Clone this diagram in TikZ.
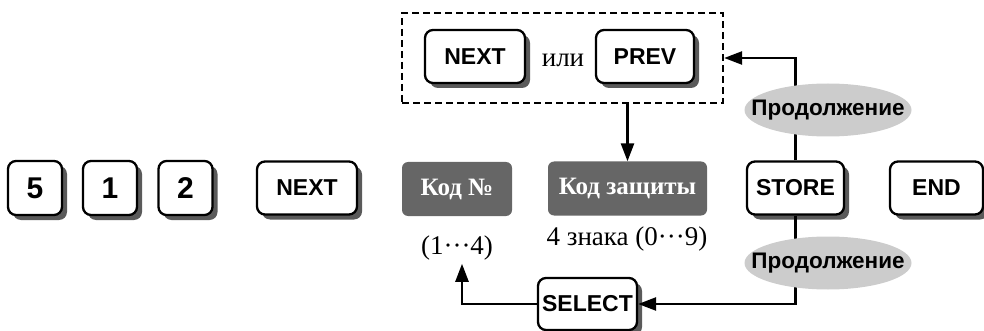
\documentclass[tikz,border=0pt]{standalone}
\usepackage{fontspec}
\setmainfont{Liberation Serif}
\setsansfont{Liberation Sans}
\usetikzlibrary{arrows.meta,positioning,shapes.geometric,shadows}
\definecolor{keyshade}{HTML}{5A5A5A}
\definecolor{fieldgrey}{HTML}{666666}
\definecolor{notegrey}{HTML}{CCCCCC}

\begin{document}
\begin{tikzpicture}[x=1pt, y=-1pt,
    keycap/.style={rectangle, draw=black, line width=2.3pt, fill=white, rounded corners=8pt, minimum height=53pt, inner sep=0pt, font=\sffamily\bfseries\fontsize{23}{23}\selectfont, drop shadow={shadow xshift=5pt, shadow yshift=-5pt, fill=keyshade, opacity=1}},
    digit/.style={keycap, minimum width=54pt, minimum height=54pt, font=\sffamily\bfseries\fontsize{30}{30}\selectfont},
    field/.style={rectangle, fill=fieldgrey, rounded corners=6pt, minimum height=54pt, text=white, font=\bfseries\fontsize{25}{25}\selectfont},
    note/.style={ellipse, fill=notegrey, minimum width=167pt, minimum height=53pt, inner sep=0pt, font=\sffamily\bfseries\fontsize{22.5}{22.5}\selectfont},
    rangetext/.style={font=\fontsize{27}{27}\selectfont},
    arr/.style={-{Triangle[length=18pt,width=13pt]}, line width=2.5pt}
]
\useasboundingbox (0,0) rectangle (984,331);

% number and keys
\node[digit] (k5) at (35,188) {5};
\node[digit] (k1) at (110,188) {1};
\node[digit] (k2) at (185.5,188) {2};
\node[keycap, minimum width=100pt] (next) at (307,188) {NEXT};
\node[field, minimum width=110pt] (code) at (457,189) {Код №};
\node[field, minimum width=159pt] (pin) at (627.5,188.5) {Код защиты};
\node[keycap, minimum width=97pt] (store) at (795.5,188) {STORE};
\node[keycap, minimum width=93pt] (end) at (936.5,188) {END};
\node[keycap, minimum width=99pt, minimum height=52pt] (select) at (587.5,304) {SELECT};
\node[rangetext] (coderange) at (457,248) {(1···4)};
\node[rangetext] (pinrange) at (627,239) {4 знака (0···9)};

% NEXT or PREV
\node[draw, dash pattern=on 7pt off 4pt, line width=2.3pt, minimum width=321pt, minimum height=90pt] (choice) at (562.5,58) {};
\node[keycap, minimum width=100pt] (next2) at (475,56.5) {NEXT};
\node[rangetext] (or) at (563,60) {или};
\node[keycap, minimum width=98pt] (prev) at (645,56.5) {PREV};

\draw[arr] (pin |- choice.south) -- (pin.north);
\draw[arr] (store.north) |- (choice.east);
\draw[arr] (store.south) |- (select.east);
\draw[arr] (select.west) -| ([xshift=5pt]coderange.south);

\node[note] (more1) at (828,110) {\makebox[0pt]{Продолжение}};
\node[note] (more2) at (828,263) {\makebox[0pt]{Продолжение}};
\end{tikzpicture}
\end{document}
